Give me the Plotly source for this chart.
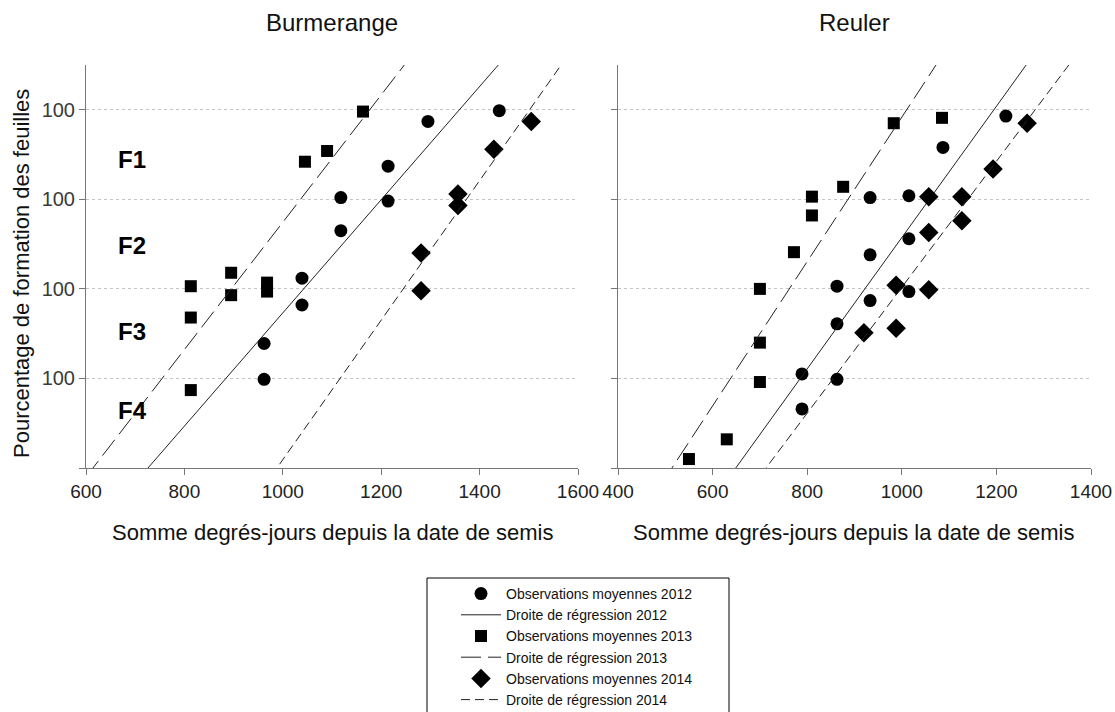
import plotly.graph_objects as go

W, H = 1115, 712

# ---- Burmerange: mean observations (degree-days, cumulative leaf %) ----
burm_x_2012 = [962, 962, 1039, 1039, 1118, 1118, 1214, 1214, 1295, 1440]
burm_y_2012 = [139, 99, 212, 182, 265, 302, 337, 298, 387, 399]
burm_x_2013 = [813, 813, 813, 895, 895, 968, 968, 1045, 1090, 1163]
burm_y_2013 = [203, 168, 87, 218, 193, 207, 197, 342, 354, 398]
burm_x_2014 = [1281, 1281, 1356, 1356, 1429, 1505]
burm_y_2014 = [198, 240, 306, 293, 356, 387]

# ---- Reuler: mean observations ----
reul_x_2012 = [789, 789, 863, 863, 863, 933, 933, 933, 1015, 1015, 1015, 1087, 1220]
reul_y_2012 = [66, 105, 99, 161, 203, 238, 302, 187, 256, 304, 197, 358, 393]
reul_x_2013 = [550, 630, 700, 700, 700, 772, 810, 810, 876, 983, 1085]
reul_y_2013 = [10, 32, 96, 140, 200, 241, 282, 303, 314, 385, 391]
reul_x_2014 = [920, 988, 988, 1057, 1057, 1057, 1127, 1127, 1193, 1265]
reul_y_2014 = [151, 156, 204, 199, 263, 303, 303, 276, 334, 385]

# ---- Regression lines: y = slope * x + intercept ----
burm_slope = {"2012": 0.632, "2013": 0.711, "2014": 0.779}
burm_icpt = {"2012": -458.8, "2013": -436.6, "2014": -769.7}
reul_slope = {"2012": 0.733, "2013": 0.806, "2014": 0.703}
reul_icpt = {"2012": -475.7, "2013": -414.3, "2014": -501.2}

burm_xrange = [600, 1600]
reul_xrange = [400, 1400]
y_range = [0, 450]

x_ticks_burm = [600, 800, 1000, 1200, 1400, 1600]
x_ticks_reul = [400, 600, 800, 1000, 1200, 1400]
y_ticks = [0, 100, 200, 300, 400]
y_tick_text = ["", "100", "100", "100", "100"]

leaf_labels = ["F1", "F2", "F3", "F4"]
leaf_label_y = [345, 249, 152, 64]
leaf_label_x = 660

years = ["2012", "2013", "2014"]
symbols = {"2012": "circle", "2013": "square", "2014": "diamond"}
sizes = {"2012": 13, "2013": 12, "2014": 15}
dashes = {"2012": "solid", "2013": "20px,7px", "2014": "9px,5px"}

FONT = "Liberation Sans, Arial, sans-serif"
INK = "#111111"

sites = [
    ("x", "y", burm_xrange, burm_slope, burm_icpt,
     {"2012": (burm_x_2012, burm_y_2012), "2013": (burm_x_2013, burm_y_2013),
      "2014": (burm_x_2014, burm_y_2014)}, True),
    ("x2", "y2", reul_xrange, reul_slope, reul_icpt,
     {"2012": (reul_x_2012, reul_y_2012), "2013": (reul_x_2013, reul_y_2013),
      "2014": (reul_x_2014, reul_y_2014)}, False),
]

fig = go.Figure()
for xa, ya, xr, slope, icpt, obs, show in sites:
    for yr in years:
        ox, oy = obs[yr]
        fig.add_trace(go.Scatter(
            x=ox, y=oy, mode="markers", xaxis=xa, yaxis=ya,
            name=f"Observations moyennes {yr}", showlegend=show,
            marker=dict(symbol=symbols[yr], size=sizes[yr], color="black",
                        line=dict(width=0)),
            cliponaxis=False,
        ))
        lx = list(xr)
        ly = [slope[yr] * v + icpt[yr] for v in lx]
        fig.add_trace(go.Scatter(
            x=lx, y=ly, mode="lines", xaxis=xa, yaxis=ya,
            name=f"Droite de régression {yr}", showlegend=show,
            line=dict(color="#222222", width=1, dash=dashes[yr]),
        ))


def xaxis_cfg(dom, rng, ticks, anchor):
    return dict(domain=dom, range=rng, tickvals=ticks, anchor=anchor,
                ticks="outside", ticklen=6, tickcolor="#777777",
                showline=True, linecolor="#777777", linewidth=1,
                showgrid=False, zeroline=False, automargin=False,
                tickfont=dict(family=FONT, size=19, color="#222222"))


def yaxis_cfg(dom, anchor, labels):
    return dict(domain=dom, range=y_range, tickvals=y_ticks, ticktext=y_tick_text,
                anchor=anchor, ticks="outside", ticklen=6, tickcolor="#777777",
                showline=True, linecolor="#777777", linewidth=1,
                showgrid=True, gridcolor="#c4c4c4", gridwidth=1, griddash="dot",
                zeroline=False, showticklabels=labels, automargin=False,
                tickfont=dict(family=FONT, size=20, color="#3a3a3a"))


ydom = [1 - 468 / H, 1 - 65 / H]
fig.update_layout(
    width=W, height=H,
    margin=dict(l=0, r=0, t=0, b=0, autoexpand=False),
    paper_bgcolor="white", plot_bgcolor="white",
    xaxis=xaxis_cfg([86 / W, 578 / W], burm_xrange, x_ticks_burm, "y"),
    yaxis=yaxis_cfg(ydom, "x", True),
    xaxis2=xaxis_cfg([618 / W, 1091 / W], reul_xrange, x_ticks_reul, "y2"),
    yaxis2=yaxis_cfg(ydom, "x2", False),
    showlegend=True,
    legend=dict(x=456 / W, y=1 - 578 / H, xanchor="left", yanchor="top",
                bgcolor="rgba(0,0,0,0)", borderwidth=0, traceorder="normal",
                tracegroupgap=0, itemwidth=40,
                font=dict(family=FONT, size=14, color=INK)),
    font=dict(family=FONT, color=INK),
)

# legend frame
fig.add_shape(type="rect", xref="paper", yref="paper",
              x0=427 / W, x1=729 / W, y0=-0.02, y1=1 - 578 / H,
              line=dict(color="black", width=1), fillcolor="rgba(0,0,0,0)")

ann = []
# panel titles
ann.append(dict(text="Burmerange", x=332 / W, y=1 - 22 / H, xref="paper", yref="paper",
                showarrow=False, xanchor="center", yanchor="middle",
                font=dict(family=FONT, size=24, color=INK)))
ann.append(dict(text="Reuler", x=854 / W, y=1 - 22 / H, xref="paper", yref="paper",
                showarrow=False, xanchor="center", yanchor="middle",
                font=dict(family=FONT, size=24, color=INK)))
# axis titles
for cx in (332, 853):
    ann.append(dict(text="Somme degrés-jours depuis la date de semis",
                    x=cx / W, y=1 - 532 / H, xref="paper", yref="paper",
                    showarrow=False, xanchor="center", yanchor="middle",
                    font=dict(family=FONT, size=22, color=INK)))
ann.append(dict(text="Pourcentage de formation des feuilles",
                x=21 / W, y=1 - 274 / H, xref="paper", yref="paper",
                showarrow=False, xanchor="center", yanchor="middle", textangle=-90,
                font=dict(family=FONT, size=22, color=INK)))
# leaf-stage labels
for lab, ly in zip(leaf_labels, leaf_label_y):
    ann.append(dict(text=f"<b>{lab}</b>", x=leaf_label_x, y=ly, xref="x", yref="y",
                    showarrow=False, xanchor="left", yanchor="middle",
                    font=dict(family=FONT, size=24, color="black")))
fig.update_layout(annotations=ann)

fig.write_html("out.html")
